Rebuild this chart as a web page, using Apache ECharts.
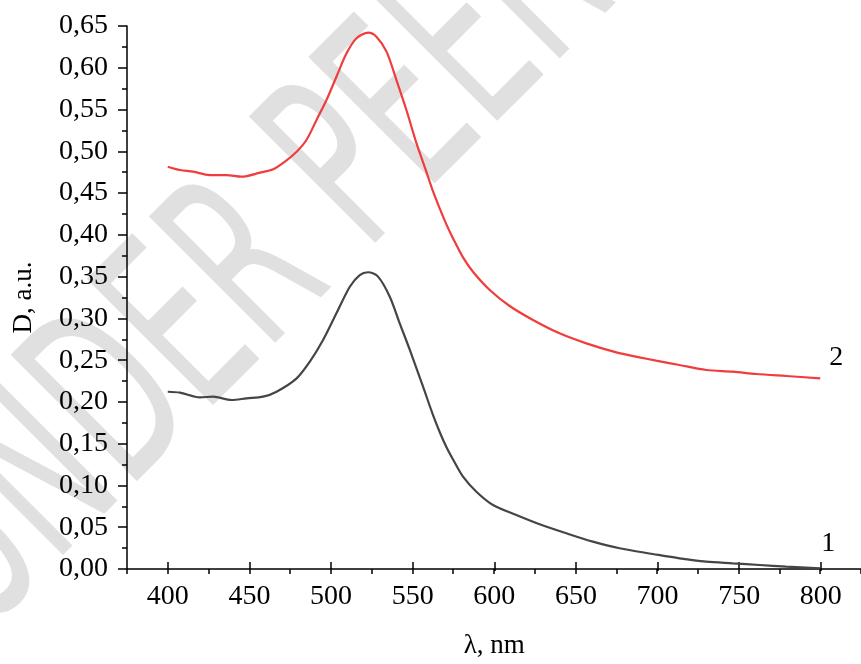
<!DOCTYPE html>
<html>
<head>
<meta charset="utf-8">
<script src="https://cdn.jsdelivr.net/npm/echarts@6/dist/echarts.min.js"></script>
<style>html,body{margin:0;padding:0;background:#fff;}#c{width:861px;height:664px;}</style>
</head>
<body>
<div id="c"></div>
<script>
// Curve 1 (black)
const wl1 = [400,407.5,419.7,427.9,439.1,448.3,458.5,466.7,479,487.1,495.2,503.4,511.6,517.7,522.8,528.9,536.1,542.2,548.4,556.5,562.4,566.7,570.8,574.9,581,589.2,599.4,613.7,628,644.3,660.6,677,697.4,713.7,730.1,746.4,762.8,779.1,800];
const d1  = [0.2122,0.2111,0.2055,0.2063,0.2023,0.2043,0.2063,0.2122,0.2282,0.2482,0.2741,0.3061,0.3379,0.3519,0.3552,0.3500,0.3260,0.2941,0.2622,0.2182,0.1855,0.1640,0.1460,0.1310,0.1105,0.0925,0.0766,0.0646,0.0535,0.0427,0.0327,0.0248,0.0180,0.0128,0.0088,0.0068,0.0048,0.0028,0.0008];
// Curve 2 (red)
const wl2 = [400,407.5,415.6,425.8,436,445.3,456.5,464.6,471.8,479,485,491.2,497.3,503.4,509.6,515.7,522.9,527.9,534.1,540.2,546.3,552.5,558.6,562.4,566.7,570.8,574.9,581,587.1,597.4,609.6,623.9,640.2,656.6,675,689.2,699.4,713.7,730.1,746.4,760.7,779.1,800];
const d2  = [0.4816,0.4776,0.4756,0.4716,0.4716,0.4696,0.4744,0.4784,0.4876,0.4995,0.5135,0.5375,0.5614,0.5893,0.6173,0.6353,0.6420,0.6372,0.6193,0.5853,0.5494,0.5095,0.4752,0.4531,0.4316,0.4125,0.3957,0.3730,0.3559,0.3340,0.3148,0.2981,0.2821,0.2701,0.2593,0.2534,0.2494,0.2442,0.2382,0.2362,0.2334,0.2310,0.2283];
const curveNames = ['1','2'];
const xTitle = 'λ, nm';
const yTitle = 'D, a.u.';
const watermark = 'UNDER PEER REVIEW';

const pair = (xs, ys) => xs.map((x, i) => [x, ys[i]]);
const serif = '"Liberation Serif", "Times New Roman", serif';
const chart = echarts.init(document.getElementById('c'), null, {renderer: 'canvas'});
const axisCol = '#000';

chart.setOption({
  animation: false,
  backgroundColor: '#fff',
  graphic: {
    elements: [{
      type: 'text', z: -100, silent: true,
      x: -64, y: 592, rotation: Math.PI / 4, scaleX: 0.57, scaleY: 1,
      style: {
        text: watermark, font: 'normal 245px "DejaVu Sans"',
        fill: '#e0e0e0',
        textAlign: 'left', textVerticalAlign: 'middle'
      }
    }]
  },
  grid: [
    {left: 127, top: 26, width: 735, bottom: 95},
    {left: 167.8, top: 26, width: 653, bottom: 95}
  ],
  xAxis: [
    {
      type: 'value', gridIndex: 0, min: 375, max: 825, interval: 25,
      axisLine: {lineStyle: {color: axisCol, width: 1.5}},
      axisTick: {length: 5, lineStyle: {color: axisCol, width: 1.5}},
      axisLabel: {show: false}, splitLine: {show: false}
    },
    {
      type: 'value', gridIndex: 1, min: 400, max: 800, interval: 50,
      axisLine: {show: false},
      axisTick: {length: 9, lineStyle: {color: axisCol, width: 1.5}},
      axisLabel: {color: '#000', fontFamily: serif, fontSize: 28, margin: 21},
      splitLine: {show: false},
      name: xTitle, nameLocation: 'middle', nameGap: 70,
      nameTextStyle: {color: '#000', fontFamily: serif, fontSize: 27}
    }
  ],
  yAxis: [
    {
      type: 'value', gridIndex: 0, min: 0, max: 0.65, interval: 0.05,
      axisLine: {show: true, lineStyle: {color: axisCol, width: 1.5}},
      axisTick: {show: true, length: 9, lineStyle: {color: axisCol, width: 1.5}},
      minorTick: {show: true, splitNumber: 2, length: 5, lineStyle: {color: axisCol, width: 1.5}},
      axisLabel: {color: '#000', fontFamily: serif, fontSize: 28, margin: 19,
        formatter: v => v.toFixed(2).replace('.', ',')},
      splitLine: {show: false},
      name: yTitle, nameLocation: 'middle', nameGap: 90, nameRotate: 90,
      nameTextStyle: {color: '#000', fontFamily: serif, fontSize: 27}
    },
    {type: 'value', gridIndex: 1, min: 0, max: 0.65, show: false}
  ],
  series: [
    {
      type: 'line', xAxisIndex: 0, yAxisIndex: 0, data: pair(wl1, d1),
      showSymbol: false, smooth: 0.3, lineStyle: {color: '#454545', width: 2.2},
      endLabel: {show: true, formatter: curveNames[0], fontFamily: serif, fontSize: 28, color: '#000',
        align: 'center', verticalAlign: 'middle', distance: 0, offset: [8, -25]}
    },
    {
      type: 'line', xAxisIndex: 0, yAxisIndex: 0, data: pair(wl2, d2),
      showSymbol: false, smooth: 0.3, lineStyle: {color: '#f03c3c', width: 2.2},
      endLabel: {show: true, formatter: curveNames[1], fontFamily: serif, fontSize: 28, color: '#000',
        align: 'center', verticalAlign: 'middle', distance: 0, offset: [16, -21]}
    }
  ]
});
</script>
</body>
</html>
